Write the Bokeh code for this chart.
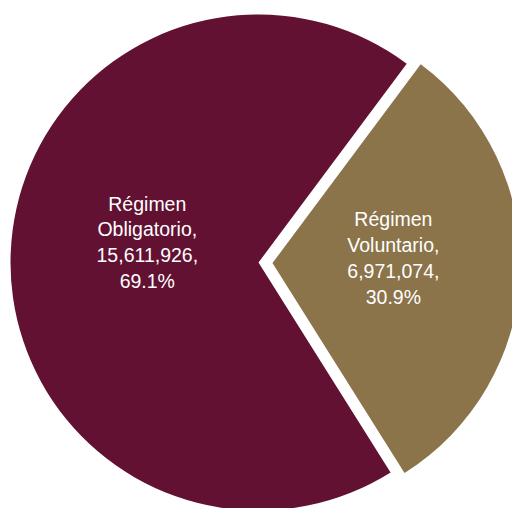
import math
from bokeh.plotting import figure
from bokeh.models import ColumnDataSource
from bokeh.core.properties import value
from bokeh.embed import file_html
from bokeh.resources import INLINE

categories = ["Régimen Obligatorio", "Régimen Voluntario"]
values = [15611926, 6971074]
colors = ["#621132", "#8B734A"]

W, H = 512, 508
cx, cy, R = 258, 246, 248
start_deg = 53.3
explode = [0, 14]
label_dist = [113, 121]
label_angle_tweak = [-8, 4.7]

total = sum(values)
p = figure(width=W, height=H, x_range=(0, W), y_range=(0, H),
           output_backend="svg", toolbar_location=None, min_border=0)
p.axis.visible = False
p.grid.visible = False
p.outline_line_color = None
p.background_fill_color = "white"

xs, ys, sa, ea, lx, ly, texts = [], [], [], [], [], [], []
ang = start_deg
for i, (c, v) in enumerate(zip(categories, values)):
    frac = v / total
    span = frac * 360
    s, e = ang, ang + span
    mid = math.radians((s + e) / 2)
    ox = cx + explode[i] * math.cos(mid)
    oy = cy + explode[i] * math.sin(mid)
    xs.append(ox); ys.append(oy)
    sa.append(math.radians(s)); ea.append(math.radians(e))
    la = mid + math.radians(label_angle_tweak[i])
    lx.append(ox + label_dist[i] * math.cos(la))
    ly.append(oy + label_dist[i] * math.sin(la))
    name1, name2 = c.split(" ")
    texts.append(f"{name1}\n{name2},\n{v:,},\n{frac*100:.1f}%")
    ang = e

src = ColumnDataSource(dict(x=xs, y=ys, sa=sa, ea=ea, color=colors,
                            lx=lx, ly=ly, text=texts))
p.wedge(x="x", y="y", radius=R, radius_units="screen", start_angle="sa", end_angle="ea",
        fill_color="color", line_color=None, source=src)
p.text(x="lx", y="ly", text="text", source=src, text_color="white",
       text_font=value("Liberation Sans"), text_font_size="19.5px",
       text_align="center", text_baseline="middle", text_line_height=1.17)

open("out.html", "w").write(file_html(p, INLINE))
